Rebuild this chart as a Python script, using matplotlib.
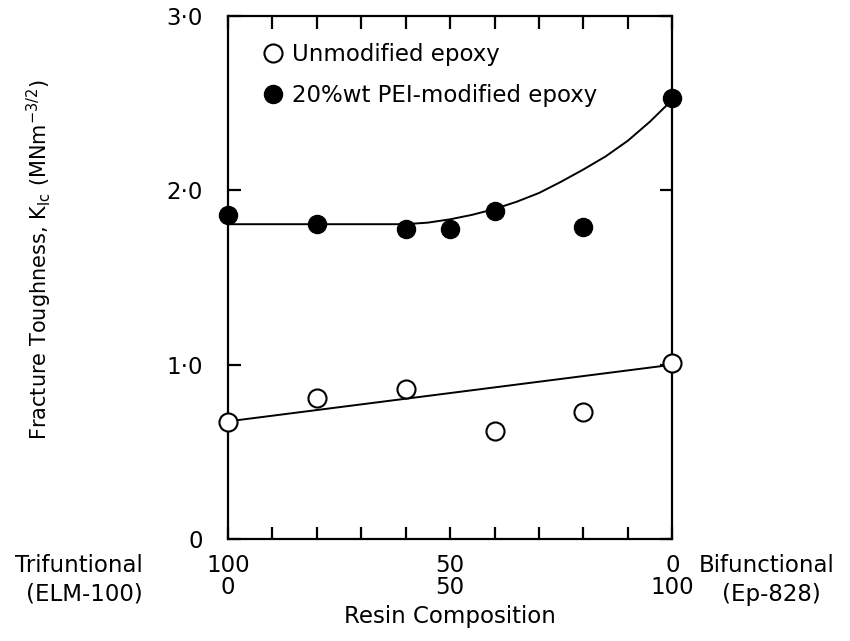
import matplotlib
matplotlib.use('Agg')
import matplotlib.pyplot as plt

plt.rcParams['font.family'] = ['DejaVu Sans']
plt.rcParams['mathtext.default'] = 'regular'

# composition: wt% bifunctional (Ep-828) in the resin blend
comp_pei = [0, 20, 40, 50, 60, 80, 100]
kic_pei = [1.86, 1.81, 1.78, 1.78, 1.88, 1.79, 2.53]

comp_unmod = [0, 20, 40, 60, 80, 100]
kic_unmod = [0.67, 0.81, 0.86, 0.62, 0.73, 1.01]

# hand-drawn trend lines
fit_unmod_x = [0, 100]
fit_unmod_y = [0.675, 1.0]
fit_pei_x = [0, 10, 20, 30, 40, 45, 50, 55, 60, 65, 70, 75, 80, 85, 90, 95, 100]
fit_pei_y = [1.806, 1.806, 1.806, 1.806, 1.806, 1.815, 1.834, 1.86, 1.893,
             1.935, 1.985, 2.05, 2.12, 2.195, 2.285, 2.395, 2.52]

yticks = [0, 1, 2, 3]
ytick_labels = ['0', '1·0', '2·0', '3·0']
xticks = list(range(0, 101, 10))
xtick_labels = ['100\n0', '', '', '', '', '50\n50', '', '', '', '', '0\n100']

FS = 16.5

fig = plt.figure(figsize=(8.5, 6.41), dpi=100)
ax = fig.add_axes([0.268, 0.159, 0.523, 0.816])

ax.plot(fit_pei_x, fit_pei_y, color='black', lw=1.4, zorder=2)
ax.plot(fit_unmod_x, fit_unmod_y, color='black', lw=1.4, zorder=2)
ax.plot(comp_unmod, kic_unmod, 'o', ms=13, mfc='white', mec='black', mew=1.5,
        ls='none', clip_on=False, zorder=3, label='Unmodified epoxy')
ax.plot(comp_pei, kic_pei, 'o', ms=13, mfc='black', mec='black',
        ls='none', clip_on=False, zorder=3, label='20%wt PEI-modified epoxy')

ax.set_xlim(0, 100)
ax.set_ylim(0, 3)

for s in ax.spines.values():
    s.set_linewidth(1.6)

ax.set_xticks(xticks)
ax.set_xticklabels(xtick_labels, fontsize=FS, linespacing=0.95)
ax.set_yticks(yticks)
ax.set_yticklabels(ytick_labels, fontsize=FS)
ax.tick_params(axis='x', direction='in', length=9, width=1.6, top=True, pad=11)
ax.tick_params(axis='y', direction='in', length=9, width=1.6, right=True, pad=18)

ax.set_xlabel('Resin Composition', fontsize=FS, labelpad=4)
ax.set_ylabel('Fracture Toughness, K$_{Ic}$ (MNm$^{-3/2}$)', fontsize=15)
ax.yaxis.set_label_coords(-0.39, 0.535)

leg = ax.legend(loc='upper left', bbox_to_anchor=(0.055, 0.965), frameon=False,
                fontsize=FS, handletextpad=0.35, handlelength=1.0,
                labelspacing=0.75, borderaxespad=0)

fig.text(143 / 850, 1 - 566 / 641, 'Trifuntional', fontsize=FS, ha='right', va='center')
fig.text(143 / 850, 1 - 594 / 641, '(ELM-100)', fontsize=FS, ha='right', va='center')
fig.text(767 / 850, 1 - 566 / 641, 'Bifunctional', fontsize=FS, ha='center', va='center')
fig.text(771 / 850, 1 - 594 / 641, '(Ep-828)', fontsize=FS, ha='center', va='center')

fig.savefig('out.png', dpi=100)
